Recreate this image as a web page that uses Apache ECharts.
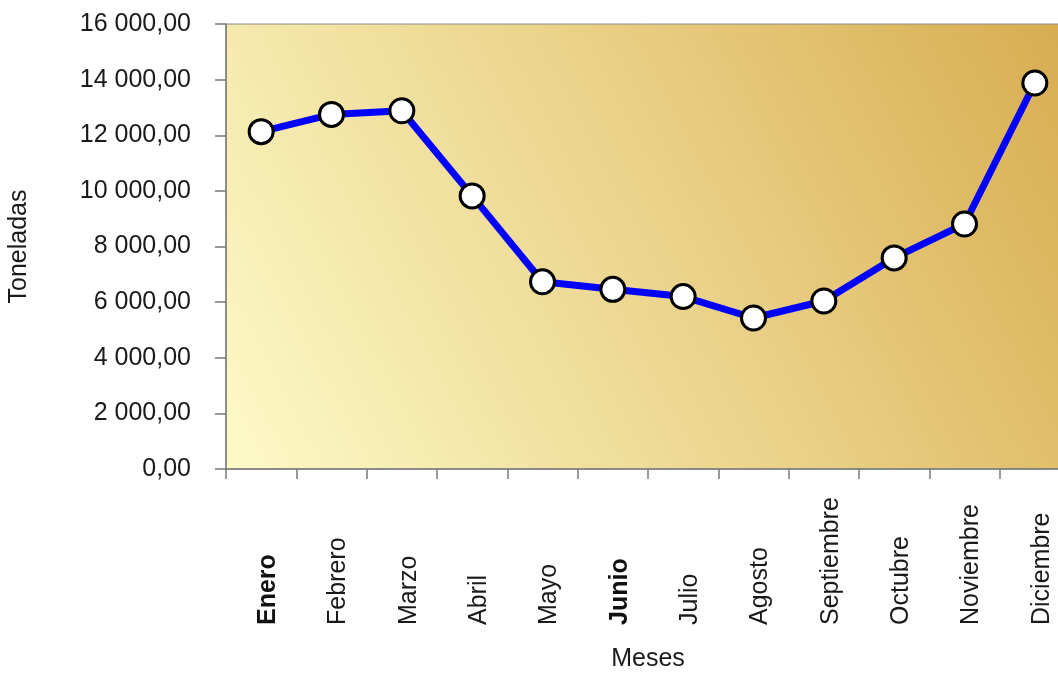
<!DOCTYPE html>
<html>
<head>
<meta charset="utf-8">
<script src="https://cdn.jsdelivr.net/npm/echarts@6/dist/echarts.min.js"></script>
<style>
html,body{margin:0;padding:0;background:#fff;overflow:hidden;}
#chart{width:1058px;height:677px;}
</style>
</head>
<body>
<div id="chart"></div>
<script>
var categories = ['Enero','Febrero','Marzo','Abril','Mayo','Junio','Julio','Agosto','Septiembre','Octubre','Noviembre','Diciembre'];
var toneladas = [12130, 12750, 12880, 9820, 6730, 6460, 6200, 5430, 6040, 7590, 8810, 13880];
var boldLabels = ['Enero','Junio'];
var yAxisName = 'Toneladas';
var xAxisName = 'Meses';

var FONT = "'Liberation Sans', Arial, sans-serif";

function fmtNum(v){
  var s = Math.round(v).toString();
  s = s.replace(/\B(?=(\d{3})+(?!\d))/g, ' ');
  return s + ',00';
}

var chart = echarts.init(document.getElementById('chart'), null, {renderer:'canvas'});
chart.setOption({
  animation: false,
  backgroundColor: '#ffffff',
  grid: {
    left: 226, top: 24, width: 844, height: 445,
    containLabel: false,
    outerBoundsMode: 'none',
    show: true,
    borderColor: '#8c8c8c',
    borderWidth: 1,
    backgroundColor: new echarts.graphic.LinearGradient(0, 1, 1, 0, [
      {offset: 0, color: '#fdfac8'},
      {offset: 0.5, color: '#ebd48c'},
      {offset: 1, color: '#d8ac50'}
    ])
  },
  xAxis: {
    type: 'category',
    data: categories,
    boundaryGap: true,
    name: xAxisName,
    nameLocation: 'middle',
    nameGap: 178,
    nameTextStyle: {fontFamily: FONT, fontSize: 25, color: '#1a1a1a'},
    axisLine: {show: true, lineStyle: {color: '#7a7a7a', width: 1.5}},
    axisTick: {show: true, length: 10, inside: false, lineStyle: {color: '#7a7a7a', width: 1.5}},
    axisLabel: {
      rotate: 90,
      align: 'left',
      verticalAlign: 'top',
      lineHeight: 14,
      margin: 156,
      interval: 0,
      fontFamily: FONT,
      fontSize: 25,
      color: '#1a1a1a',
      formatter: function(v){ return boldLabels.indexOf(v) >= 0 ? '{b|' + v + '}' : v; },
      rich: {b: {fontFamily: FONT, fontSize: 25, lineHeight: 14, fontWeight: 'bold', color: '#111'}}
    },
    splitLine: {show: false}
  },
  yAxis: {
    type: 'value',
    min: 0, max: 16000, interval: 2000,
    name: yAxisName,
    nameLocation: 'middle',
    nameGap: 194,
    nameRotate: 90,
    nameTextStyle: {fontFamily: FONT, fontSize: 25, color: '#1a1a1a'},
    axisLine: {show: true, lineStyle: {color: '#7a7a7a', width: 1.5}},
    axisTick: {show: true, length: 11, inside: false, lineStyle: {color: '#7a7a7a', width: 1.5}},
    axisLabel: {
      margin: 35,
      fontFamily: FONT,
      fontSize: 25,
      color: '#1a1a1a',
      formatter: function(v){ return fmtNum(v); }
    },
    splitLine: {show: false}
  },
  series: [{
    type: 'line',
    data: toneladas,
    symbol: 'circle',
    symbolSize: 24,
    lineStyle: {color: '#0000ff', width: 7},
    itemStyle: {color: '#ffffff', borderColor: '#000000', borderWidth: 3},
    emphasis: {disabled: true}
  }]
});
</script>
</body>
</html>
